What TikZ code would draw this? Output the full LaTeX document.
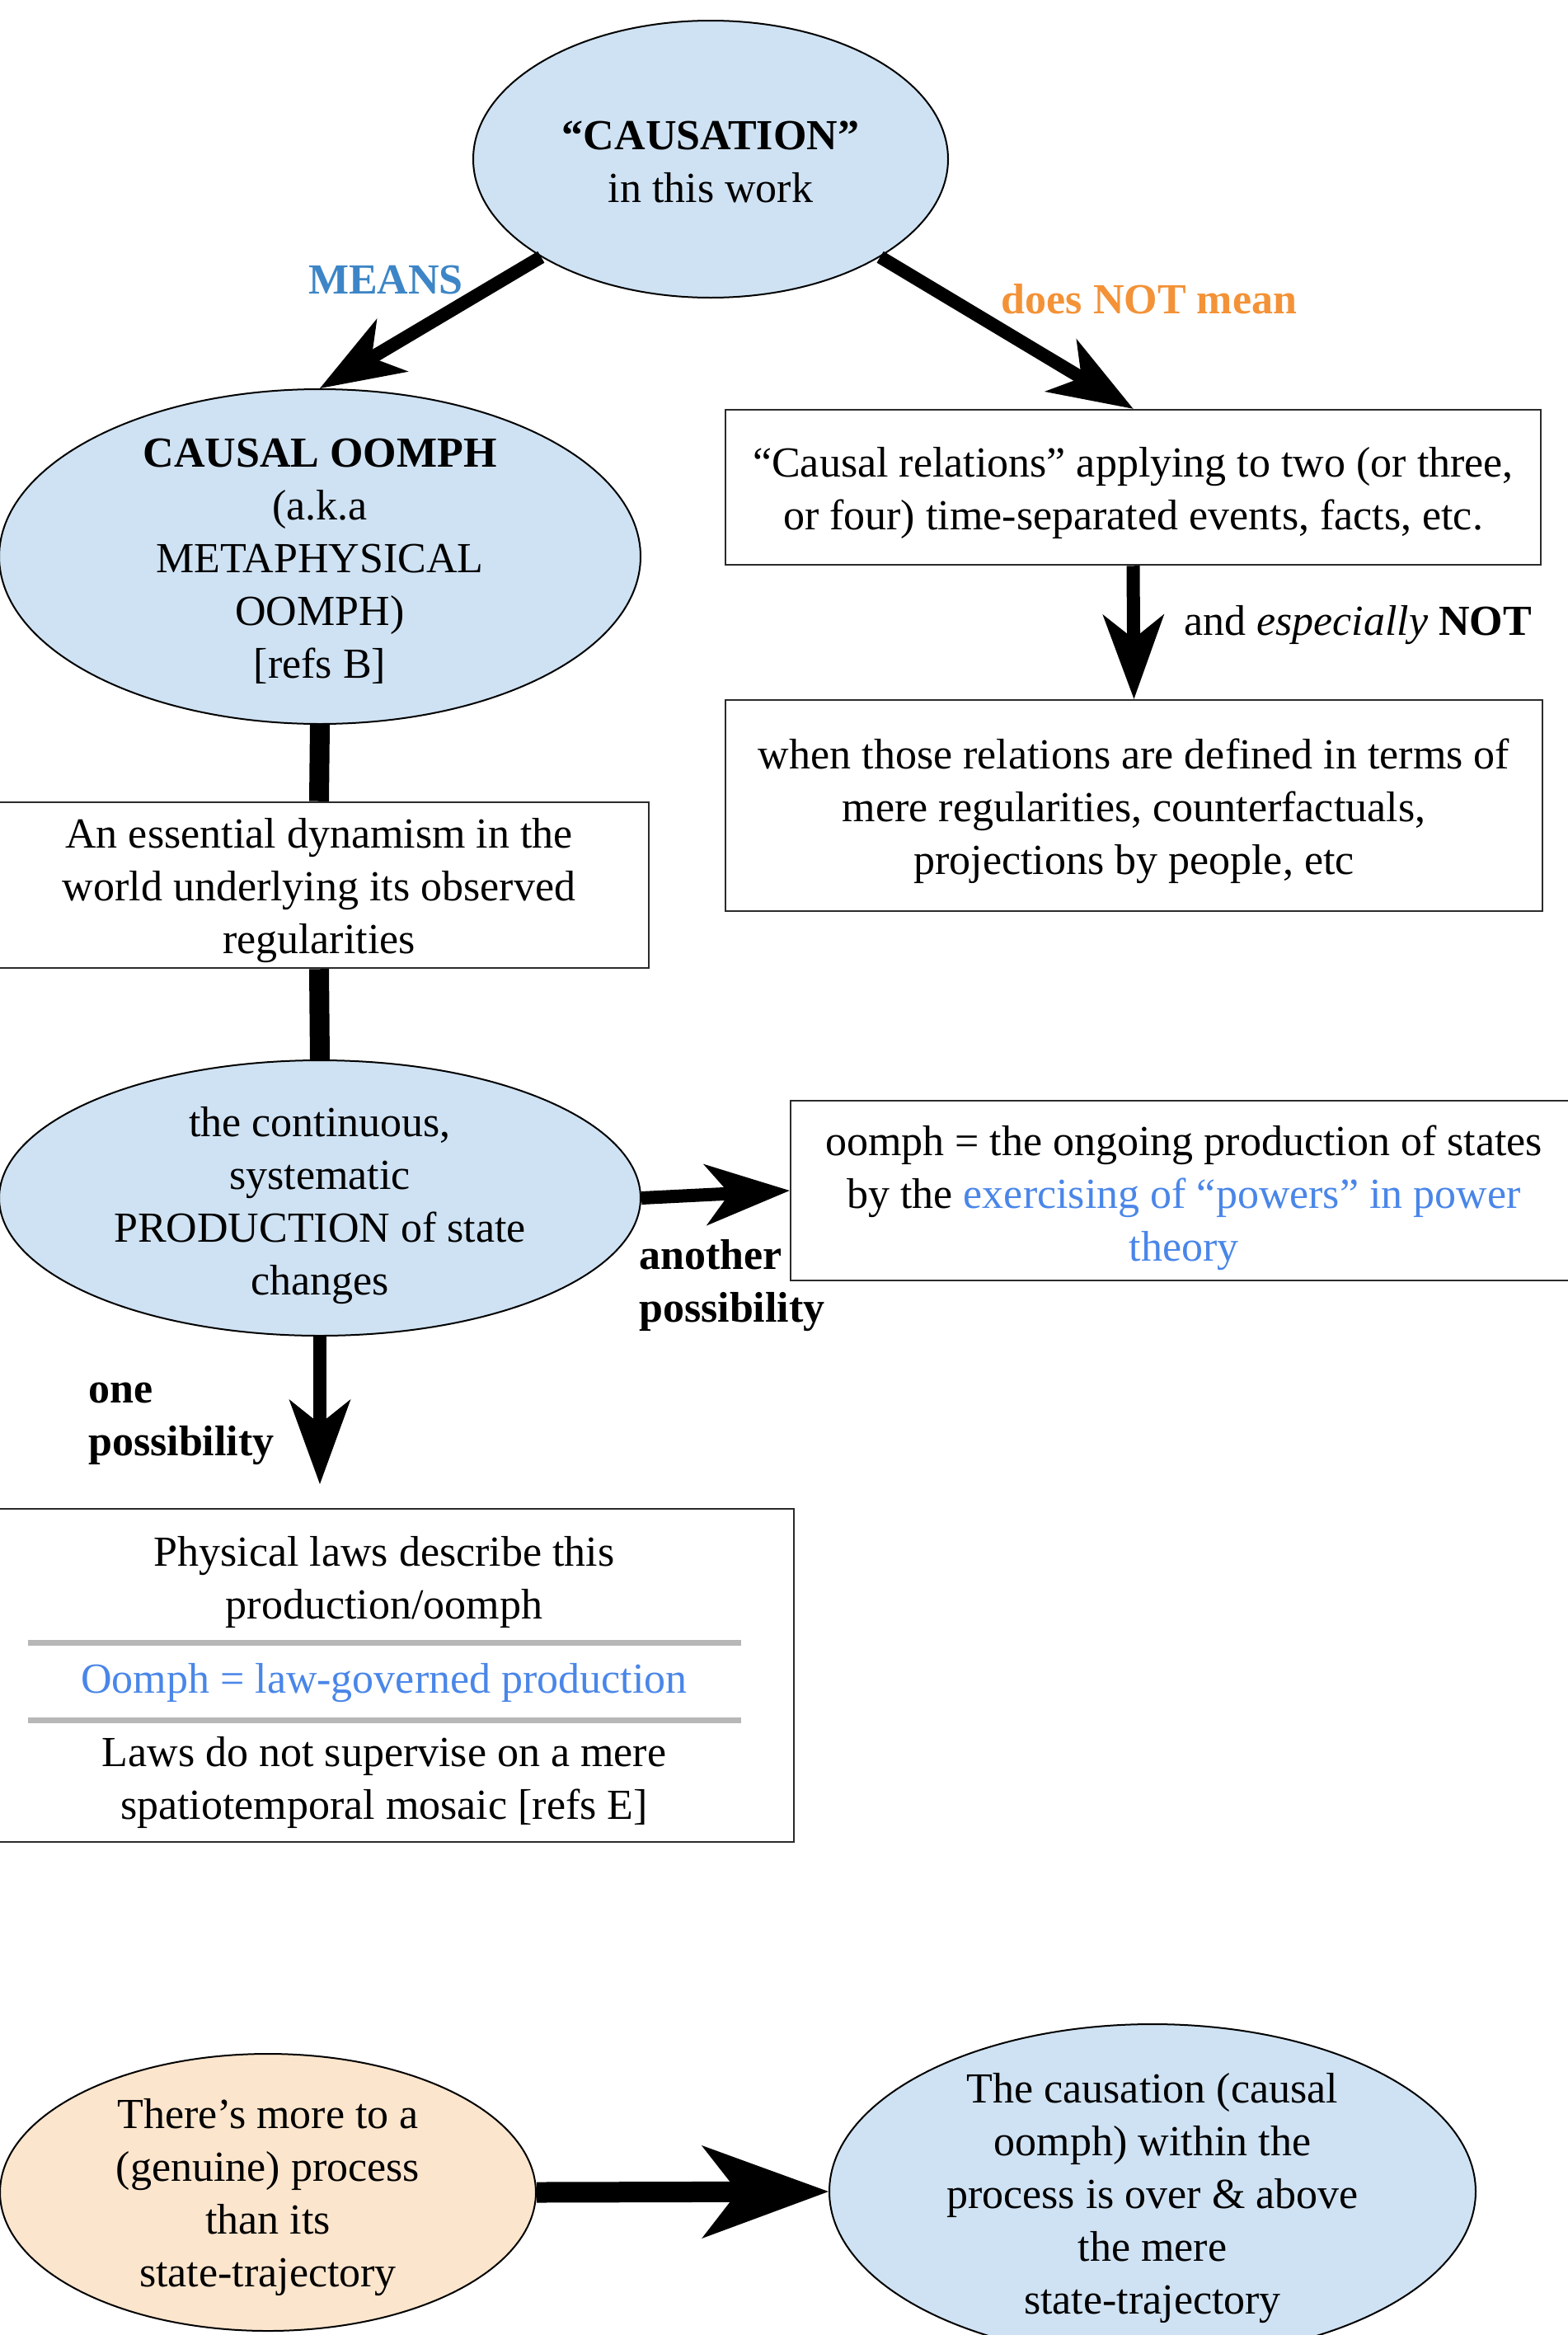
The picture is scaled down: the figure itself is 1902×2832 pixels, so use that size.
\documentclass[tikz,border=0pt]{standalone}
\usepackage{fontspec}
\setmainfont{Liberation Serif}
\usetikzlibrary{shapes.geometric,arrows.meta}

\definecolor{lblue}{HTML}{CFE2F3}
\definecolor{peach}{HTML}{FCE5CD}
\definecolor{headblue}{HTML}{3D85C6}
\definecolor{headorange}{HTML}{F39237}
\definecolor{tblue}{HTML}{4A86E8}
\definecolor{sepgray}{HTML}{B7B7B7}
\definecolor{boxline}{HTML}{2B2B2B}

\tikzset{
  txt/.style={font=\fontsize{52}{64}\selectfont, align=center, inner sep=0pt},
  btxt/.style={txt, font=\fontsize{52}{64}\selectfont\bfseries},
  ell/.style={ellipse, draw=black, line width=2pt, fill=lblue, inner sep=0pt},
  boxnode/.style={rectangle, draw=boxline, line width=2.5pt, inner sep=0pt},
  link/.style={line width=24pt},
  arr/.style={line width=16pt,
    -{Stealth[length=103pt, width=75pt, inset=30pt, line width=0pt]}},
  bigarr/.style={line width=25pt,
    -{Stealth[length=154pt, width=113pt, inset=44pt, line width=0pt]}},
  sepline/.style={draw=sepgray, line width=7pt},
}

\begin{document}
\begin{tikzpicture}[x=1pt, y=-1pt]
\useasboundingbox (0,0) rectangle (1902,2832);

% --- ellipses ---
\node[ell, minimum width=576pt, minimum height=336pt] (cause) at (862,193) {};
\node[txt] (causeT) at (862,196) {\textbf{“CAUSATION”}\\in this work};

\node[ell, minimum width=778pt, minimum height=406pt] (oomph) at (388,675) {};
\node[txt] (oomphT) at (388,681) {\textbf{CAUSAL OOMPH}\\(a.k.a\\METAPHYSICAL\\OOMPH)\\{}[refs B]};

\node[ell, minimum width=778pt, minimum height=334pt] (prod) at (388,1453) {};
\node[txt] (prodT) at (388,1462) {the continuous,\\systematic\\PRODUCTION of state\\changes};

\node[ell, fill=peach, minimum width=650pt, minimum height=336pt] (more) at (325,2659) {};
\node[txt] (moreT) at (325,2665) {There’s more to a\\(genuine) process\\than its\\state-trajectory};

\node[ell, minimum width=784pt, minimum height=406pt] (over) at (1398,2658) {};
\node[txt] (overT) at (1398,2666) {The causation (causal\\oomph) within the\\process is over \& above\\the mere\\state-trajectory};

% --- boxes ---
\node[boxnode, minimum width=989pt, minimum height=188pt] (rel) at (1374.5,591) {};
\node[txt] (relT) at (1374.5,598)
  {“Causal relations” applying to two (or three,\\or four) time-separated events, facts, etc.};

\node[boxnode, minimum width=991pt, minimum height=256pt] (defn) at (1375.5,977) {};
\node[txt] (defnT) at (1375.5,984)
  {when those relations are defined in terms of\\mere regularities, counterfactuals,\\projections by people, etc};

\node[boxnode, minimum width=800pt, minimum height=201pt] (ess) at (387,1073.5) {};
\node[txt] (essT) at (387,1080.5)
  {An essential dynamism in the\\world underlying its observed\\regularities};

\node[boxnode, minimum width=954pt, minimum height=218pt] (pow) at (1436,1444) {};
\node[txt] (powT) at (1436,1453)
  {oomph = the ongoing production of states\\by the \textcolor{tblue}{exercising of “powers” in power}\\\textcolor{tblue}{theory}};

\node[boxnode, minimum width=994pt, minimum height=404pt] (laws) at (466,2032) {};
\node[txt] (lawsA) at (466,1919) {Physical laws describe this\\production/oomph};
\node[txt, text=tblue] (lawsB) at (466,2041) {Oomph = law-governed production};
\node[txt] (lawsC) at (466,2162) {Laws do not supervise on a mere\\spatiotemporal mosaic [refs E]};
\draw[sepline] (34,1992) -- (899,1992);
\draw[sepline] (34,2086) -- (899,2086);

% --- connector labels ---
\node[btxt, text=headblue] (lblMeans) at (468,340) {MEANS};
\node[btxt, text=headorange] (lblNot) at (1394,363) {does NOT mean};
\node[txt, anchor=west] (lblEsp) at (1436,758) {and \textit{especially} \textbf{NOT}};
\node[btxt, anchor=west, align=left] (lblAnother) at (775,1559) {another\\possibility};
\node[btxt, anchor=west, align=left] (lblOne) at (107,1727) {one\\possibility};

% --- connectors ---
\coordinate (oneTip) at (388,1800);
\draw[arr] (cause.210) -- (oomph.north);
\draw[arr] (cause.-30) -- (rel.north);
\draw[arr] (rel.south) -- (defn.north);
\draw[link] (oomph.south) -- (ess.north);
\draw[link] (ess.south) -- (prod.north);
\draw[arr] (prod.east) -- (pow.west);
\draw[arr] (prod.south) -- (oneTip);
\draw[bigarr] (more.east) -- (over.west);
\end{tikzpicture}
\end{document}
